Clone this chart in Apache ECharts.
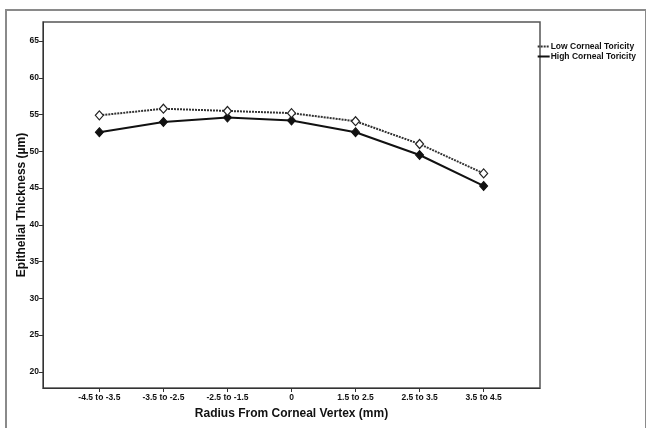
<!DOCTYPE html>
<html>
<head>
<meta charset="utf-8">
<script src="https://cdn.jsdelivr.net/npm/echarts@6/dist/echarts.min.js"></script>
<style>
html,body{margin:0;padding:0;background:#fff;}
#frame{position:absolute;left:5px;top:9px;width:638px;height:430px;border:2px solid #8a8a8a;border-bottom:none;}
#chart{position:absolute;left:0;top:0;width:646px;height:428px;}
</style>
</head>
<body>
<div id="frame"></div>
<div id="chart"></div>
<script>
const categories = ['-4.5 to -3.5', '-3.5 to -2.5', '-2.5 to -1.5', '0', '1.5 to 2.5', '2.5 to 3.5', '3.5 to 4.5'];
const lowToricity = [54.9, 55.8, 55.5, 55.2, 54.1, 51.0, 47.0];
const highToricity = [52.6, 54.0, 54.6, 54.2, 52.6, 49.5, 45.3];
const yTicks = [20, 25, 30, 35, 40, 45, 50, 55, 60, 65];
const seriesNames = ['Low Corneal Toricity', 'High Corneal Toricity'];

const positions = categories.map((c, i) => i + 1);
const toPairs = arr => arr.map((v, i) => [positions[i], v]);
const font = '"Liberation Sans Narrow", "Arial Narrow", "Liberation Sans", Arial, sans-serif';

const chart = echarts.init(document.getElementById('chart'), null, {renderer: 'canvas'});
chart.setOption({
  backgroundColor: 'transparent',
  animation: false,
  grid: {left: 43, right: 106, top: 22, bottom: 40, show: true, borderColor: '#555', borderWidth: 1.5, backgroundColor: 'transparent', containLabel: false, outerBoundsMode: 'none'},
  legend: {
    right: 5, top: 37, orient: 'vertical', itemGap: 1, itemWidth: 12, itemHeight: 8,
    align: 'left',
    textStyle: {fontFamily: font, fontWeight: 'bold', fontSize: 8.5, color: '#111', padding: [0, 0, 0, -4]},
    itemStyle: {opacity: 0},
    data: seriesNames
  },
  xAxis: {
    type: 'value', min: 0.12, max: 7.88,
    axisLine: {show: true, lineStyle: {color: '#333', width: 1}},
    axisTick: {show: true, length: 4, lineStyle: {color: '#333'}, customValues: positions},
    axisLabel: {customValues: positions, formatter: v => categories[Math.round(v) - 1], fontFamily: font, fontWeight: 'bold', fontSize: 8.5, color: '#111', margin: 5},
    splitLine: {show: false},
    name: 'Radius From Corneal Vertex (mm)', nameLocation: 'middle', nameGap: 20, nameMoveOverlap: false,
    nameTextStyle: {fontFamily: 'Liberation Sans, Arial, sans-serif', fontWeight: 'bold', fontSize: 12, color: '#111'}
  },
  yAxis: {
    type: 'value', min: 17.8, max: 67.6,
    axisLine: {show: true, lineStyle: {color: '#333', width: 1}},
    axisTick: {show: true, length: 4, lineStyle: {color: '#333'}, customValues: yTicks},
    axisLabel: {customValues: yTicks, fontFamily: font, fontWeight: 'bold', fontSize: 8.5, color: '#111', margin: 4},
    splitLine: {show: false},
    name: 'Epithelial Thickness (µm)', nameLocation: 'middle', nameGap: 15, nameMoveOverlap: false,
    nameTextStyle: {fontFamily: 'Liberation Sans, Arial, sans-serif', fontWeight: 'bold', fontSize: 12, color: '#111'}
  },
  series: [
    {
      name: seriesNames[0], type: 'line', data: toPairs(lowToricity),
      symbol: 'diamond', symbolSize: [8, 9], showAllSymbol: true,
      lineStyle: {color: '#333', width: 2, type: [2, 1]},
      itemStyle: {color: '#fff', borderColor: '#222', borderWidth: 1.2},
      z: 3
    },
    {
      name: seriesNames[1], type: 'line', data: toPairs(highToricity),
      symbol: 'diamond', symbolSize: [8, 9], showAllSymbol: true,
      lineStyle: {color: '#111', width: 2, type: 'solid'},
      itemStyle: {color: '#111', borderColor: '#111', borderWidth: 1},
      z: 2
    }
  ]
});
</script>
</body>
</html>
